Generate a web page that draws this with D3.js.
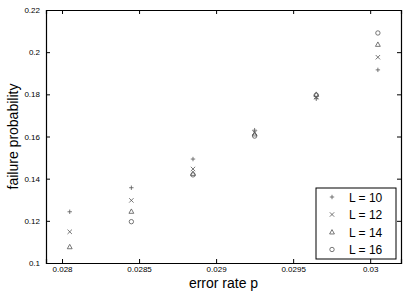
<!DOCTYPE html>
<html>
<head>
<meta charset="utf-8">
<script src="https://cdn.jsdelivr.net/npm/d3@7"></script>
<style>
  body { margin: 0; background: #fff; }
  text { font-family: "Liberation Sans", Arial, sans-serif; fill: #000; }
</style>
</head>
<body>
<div id="chart"></div>
<script>
// error rate values (x)
const errorRates = [0.02805, 0.02845, 0.02885, 0.02925, 0.02965, 0.03005];
const xTicks = [0.028, 0.0285, 0.029, 0.0295, 0.03];
const yTicks = [0.1, 0.12, 0.14, 0.16, 0.18, 0.2, 0.22];

const seriesNames = ['L = 10', 'L = 12', 'L = 14', 'L = 16'];
const valuesL10 = [0.1243, 0.1357, 0.1493, 0.1630, 0.1779, 0.1916];
const valuesL12 = [0.1148, 0.1297, 0.1446, 0.1618, 0.1787, 0.1976];
const valuesL14 = [0.1077, 0.1245, 0.1425, 0.1612, 0.1800, 0.2037];
const valuesL16 = [null, 0.1196, 0.1418, 0.1602, 0.1796, 0.2091];

const W = 415, H = 293;
const margin = { top: 10, right: 14, bottom: 30, left: 46 };

const svg = d3.select('#chart').append('svg')
  .attr('width', W)
  .attr('height', H);

const x = d3.scaleLinear()
  .domain([0.027896, 0.030200])
  .range([margin.left, W - margin.right]);

const y = d3.scaleLinear()
  .domain([0.1, 0.22])
  .range([H - margin.bottom, margin.top]);

const tickLen = 4;

// axes with inward ticks, mirrored on all sides
const xb = svg.append('g')
  .attr('transform', `translate(0,${y(0.1)})`)
  .call(d3.axisBottom(x).tickValues(xTicks).tickSize(-tickLen).tickPadding(3.5)
    .tickFormat(d => String(+d.toFixed(4))));
const xt = svg.append('g')
  .attr('transform', `translate(0,${y(0.22)})`)
  .call(d3.axisTop(x).tickValues(xTicks).tickSize(-tickLen).tickFormat(''));
const yl = svg.append('g')
  .attr('transform', `translate(${x.range()[0]},0)`)
  .call(d3.axisLeft(y).tickValues(yTicks).tickSize(-tickLen).tickPadding(6)
    .tickFormat(d => String(+d.toFixed(2))));
const yr = svg.append('g')
  .attr('transform', `translate(${x.range()[1]},0)`)
  .call(d3.axisRight(y).tickValues(yTicks).tickSize(-tickLen).tickFormat(''));

[xb, xt, yl, yr].forEach(g => {
  g.select('.domain').attr('stroke', '#000').attr('stroke-width', 1.2);
  g.selectAll('.tick line').attr('stroke', '#000').attr('stroke-width', 1);
  g.selectAll('.tick text').style('font-size', '8px').attr('fill', '#000');
});

// axis labels
svg.append('text')
  .attr('x', (x.range()[0] + x.range()[1]) / 2)
  .attr('y', 288)
  .attr('text-anchor', 'middle')
  .style('font-size', '14px')
  .text('error rate p');

svg.append('text')
  .attr('transform', 'rotate(-90)')
  .attr('x', -(y.range()[0] + y.range()[1]) / 2)
  .attr('y', 18)
  .attr('text-anchor', 'middle')
  .style('font-size', '14px')
  .text('failure probability');

// marker shapes
const sz = 2.2;
const shapes = [
  (g) => g.append('path').attr('d', `M${-sz},0H${sz}M0,${-sz}V${sz}`),
  (g) => g.append('path').attr('d', `M${-sz},${-sz}L${sz},${sz}M${-sz},${sz}L${sz},${-sz}`),
  (g) => g.append('path').attr('d', `M0,${-sz * 1.1}L${sz * 1.1},${sz * 0.9}L${-sz * 1.1},${sz * 0.9}Z`),
  (g) => g.append('circle').attr('r', sz)
];

const allSeries = [valuesL10, valuesL12, valuesL14, valuesL16];

allSeries.forEach((vals, si) => {
  vals.forEach((v, i) => {
    if (v == null) return;
    const g = svg.append('g')
      .attr('transform', `translate(${x(errorRates[i])},${y(v)})`);
    shapes[si](g).attr('fill', 'none').attr('stroke', '#555').attr('stroke-width', 0.8);
  });
});

// legend
const legend = svg.append('g').attr('transform', 'translate(316,188)');
legend.append('rect')
  .attr('width', 80)
  .attr('height', 71)
  .attr('fill', '#fff')
  .attr('stroke', '#000')
  .attr('stroke-width', 1);

seriesNames.forEach((name, i) => {
  const yy = 9 + i * 17.5;
  const g = legend.append('g').attr('transform', `translate(16,${yy})`);
  shapes[i](g).attr('fill', 'none').attr('stroke', '#555').attr('stroke-width', 0.8);
  legend.append('text')
    .attr('x', 33)
    .attr('y', yy + 4.5)
    .style('font-size', '12px')
    .text(name);
});
</script>
</body>
</html>
